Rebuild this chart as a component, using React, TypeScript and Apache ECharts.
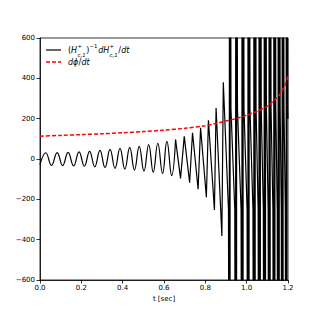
import React, { useEffect, useRef } from "react";
import * as echarts from "echarts";

// Smooth (sine-like) early part of (H^+_{c,1})^{-1} dH^+_{c,1}/dt : extrema
const waveTimes = [0, 0.028, 0.0555, 0.083, 0.1095, 0.136, 0.1625, 0.189, 0.2145, 0.24, 0.265, 0.29, 0.3145, 0.339, 0.363, 0.387, 0.4105, 0.434, 0.457, 0.48, 0.503, 0.526, 0.548, 0.57, 0.593, 0.614, 0.637, 0.656];
const waveValues = [-28, 31, -32, 32, -33, 33, -34, 35, -36, 38, -39, 43, -42, 48, -46, 53, -50, 58, -55, 63, -60, 71, -66, 78, -72, 87, -82, 96];

// Sharp / spiky late part
const sharpTimes = [
  0.656, 0.68, 0.698, 0.724, 0.738, 0.765, 0.777, 0.805, 0.815, 0.844, 0.852, 0.88, 0.887,
  0.912, 0.916, 0.9165, 0.9195, 0.92, 0.924,
  0.9425, 0.9465, 0.947, 0.951, 0.9515, 0.9555,
  0.973, 0.977, 0.9775, 0.9825, 0.983, 0.987,
  1.002, 1.006, 1.0065, 1.0115, 1.012, 1.016,
  1.0305, 1.0345, 1.035, 1.041, 1.0415, 1.0455,
  1.0555, 1.0595, 1.06, 1.066, 1.0665, 1.0705,
  1.0805, 1.0845, 1.085, 1.091, 1.0915, 1.0955,
  1.104, 1.108, 1.1085, 1.1135, 1.114, 1.118,
  1.127, 1.131, 1.1315, 1.1365, 1.137, 1.141,
  1.148, 1.152, 1.1525, 1.1575, 1.158, 1.162,
  1.1675, 1.1715, 1.172, 1.176, 1.1765, 1.1805,
  1.187, 1.191, 1.1915, 1.1945, 1.195, 1.199,
  1.2,
];
const sharpValues = [
  96, -96, 112, -118, 130, -150, 155, -190, 192, -253, 253, -382, 381,
  -250, -2500, 2500, -2500, 2500, 250,
  -250, -2500, 2500, -2500, 2500, 250,
  -250, -2500, 2500, -2500, 2500, 250,
  -250, -2500, 2500, -2500, 2500, 250,
  -250, -2500, 2500, -2500, 2500, 250,
  -250, -2500, 2500, -2500, 2500, 250,
  -250, -2500, 2500, -2500, 2500, 250,
  -250, -2500, 2500, -2500, 2500, 250,
  -250, -2500, 2500, -2500, 2500, 250,
  -250, -2500, 2500, -2500, 2500, 250,
  -250, -2500, 2500, -2500, 2500, 250,
  -250, -2500, 2500, -2500, 2500, 250,
  200,
];

// dphi/dt (red dashed)
const phaseTimes = [0, 0.1, 0.2, 0.3, 0.4, 0.5, 0.6, 0.7, 0.8, 0.85, 0.9, 0.95, 1.0, 1.05, 1.1, 1.12, 1.14, 1.16, 1.175, 1.19, 1.2];
const phaseRate = [113, 117, 121, 125, 130, 136, 143, 152, 165, 176, 188, 201, 217, 237, 262, 278, 297, 320, 345, 380, 410];

const FONT = "DejaVu Sans";

export default function App() {
  const ref = useRef<HTMLDivElement>(null);
  useEffect(() => {
    const chart = echarts.init(ref.current!, null, { renderer: "svg" });
    const zip = (a: number[], b: number[]) => a.map((t, i) => [t, b[i]]);
    const minus = (v: number) => (v < 0 ? "\u2212" + Math.abs(v) : String(v));
    const txt = (text: string, x: number, y: number, size: number, italic: boolean) => ({
      type: "text",
      x,
      y,
      z: 100,
      style: {
        text,
        fill: "#000",
        fontSize: size,
        fontFamily: FONT,
        fontStyle: italic ? "italic" : "normal",
        verticalAlign: "middle",
        align: "left",
      },
    });
    chart.setOption({
      animation: false,
      backgroundColor: "#fff",
      grid: {
        left: 40,
        right: 32,
        top: 38,
        bottom: 40,
        show: true,
        borderColor: "#000",
        borderWidth: 0.8,
        backgroundColor: "transparent",
      },
      xAxis: {
        type: "value",
        min: 0,
        max: 1.2,
        interval: 0.2,
        name: "t [sec]",
        nameLocation: "middle",
        nameGap: 13,
        nameTextStyle: { fontSize: 7, fontFamily: FONT, color: "#000" },
        axisLine: { onZero: false, lineStyle: { color: "#000", width: 0.8 } },
        axisTick: { inside: false, length: 3.5, lineStyle: { color: "#000", width: 0.8 } },
        axisLabel: {
          fontSize: 7,
          fontFamily: FONT,
          color: "#000",
          margin: 4,
          formatter: (v: number) => v.toFixed(1),
        },
        splitLine: { show: false },
      },
      yAxis: {
        type: "value",
        min: -600,
        max: 600,
        interval: 200,
        axisLine: { show: true, onZero: false, lineStyle: { color: "#000", width: 0.8 } },
        axisTick: { show: true, inside: false, length: 3.5, lineStyle: { color: "#000", width: 0.8 } },
        axisLabel: { fontSize: 7, fontFamily: FONT, color: "#000", margin: 5, formatter: minus },
        splitLine: { show: false },
      },
      series: [
        {
          name: "wave",
          type: "line",
          data: zip(waveTimes, waveValues),
          smooth: 0.45,
          showSymbol: false,
          clip: true,
          lineStyle: { color: "#000", width: 1.2 },
        },
        {
          name: "wave",
          type: "line",
          data: zip(sharpTimes, sharpValues),
          showSymbol: false,
          clip: true,
          lineStyle: { color: "#000", width: 1.2 },
        },
        {
          name: "dphi",
          type: "line",
          data: zip(phaseTimes, phaseRate),
          smooth: 0.3,
          showSymbol: false,
          clip: true,
          lineStyle: { color: "#ff0000", width: 1.5, type: [4, 2] },
        },
      ],
      graphic: [
        { type: "line", z: 100, shape: { x1: 46, y1: 50, x2: 61, y2: 50 }, style: { stroke: "#000", lineWidth: 1.2 } },
        { type: "line", z: 100, shape: { x1: 46, y1: 62, x2: 61, y2: 62 }, style: { stroke: "#ff0000", lineWidth: 1.5, lineDash: [4, 2] } },
        txt("(", 68, 50.5, 8, false),
        txt("H", 71.1, 50.5, 8, true),
        txt("+", 77.6, 46, 5.4, false),
        txt("c,1", 77.6, 54.6, 5.4, true),
        txt(")", 86.2, 50.5, 8, false),
        txt("\u22121", 89.5, 46, 5.4, false),
        txt("dH", 98.2, 50.5, 8, true),
        txt("+", 109.6, 46, 5.4, false),
        txt("c,1", 109.6, 54.6, 5.4, true),
        txt("/", 118.3, 50.5, 8, false),
        txt("dt", 121.2, 50.5, 8, true),
        txt("d\u03d5", 68, 62.5, 8, true),
        txt("/", 78.6, 62.5, 8, false),
        txt("dt", 81.5, 62.5, 8, true),
      ],
    });
    return () => chart.dispose();
  }, []);
  return (
    <div
      ref={ref}
      style={{ position: "fixed", left: 0, top: 0, width: 320, height: 320, background: "#fff" }}
    />
  );
}
